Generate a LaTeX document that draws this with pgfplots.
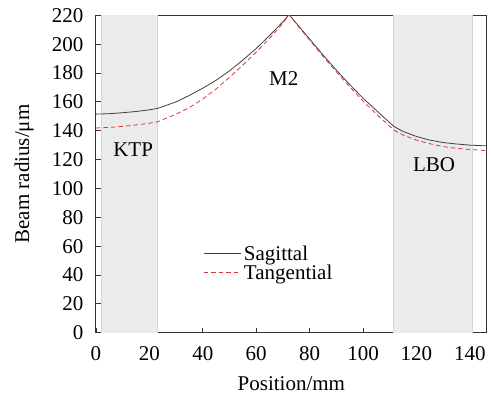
\documentclass[border=0pt]{standalone}
\usepackage{fontspec}
\setmainfont{Liberation Serif}
\usepackage{pgfplots}
\pgfplotsset{compat=1.18}
\definecolor{shade}{HTML}{EBEBEB}
\definecolor{shadeedge}{HTML}{D6D6D6}
\definecolor{tanred}{HTML}{E0353A}
\definecolor{axgray}{HTML}{333333}
\begin{document}
\begin{tikzpicture}[font=\fontsize{21bp}{25bp}\selectfont]
\useasboundingbox (-96bp,-65.3bp) rectangle (395bp,332.7bp);
\begin{axis}[
  at={(0,0)}, anchor=south west,
  scale only axis, width=390.7bp, height=317.4bp,
  xmin=0, xmax=146.3, ymin=0, ymax=220,
  xtick={0,20,40,60,80,100,120,140}, ytick={0,20,40,60,80,100,120,140,160,180,200,220},
  xticklabels={0,20,40,60,80,100,120,140},
  yticklabels={0,20,40,60,80,100,120,140,160,180,200,220},
  xtick pos=left, ytick pos=left, tick align=inside,
  major tick length=5bp,
  axis line style={axgray, line width=1bp},
  every tick/.style={axgray, line width=0.8bp},
  xticklabel style={yshift=-10bp},
  yticklabel style={xshift=-9bp},
  xlabel={Position/mm}, ylabel={Beam radius/μm},
  xlabel style={at={(axis description cs:0.5,-0.161)}, anchor=center},
  ylabel style={at={(axis description cs:-0.184,0.5)}, anchor=center},
  legend style={at={(axis cs:40.06,48.2)}, anchor=west, draw=none, fill=none,
    inner sep=0pt, row sep=3bp, font=\fontsize{21bp}{25bp}\selectfont,
    nodes={inner xsep=3bp, inner ysep=0bp}},
  legend cell align=left,
  legend image code/.code={\draw[#1] (0bp,0bp) -- (37bp,0bp);},
  clip=true,
]
\addplot[fill=shade, draw=shadeedge, line width=0.8bp, forget plot] coordinates {(2.1,-1) (2.1,221) (23.1,221) (23.1,-1)} -- cycle;
\addplot[fill=shade, draw=shadeedge, line width=0.8bp, forget plot] coordinates {(111.3,-1) (111.3,221) (140.8,221) (140.8,-1)} -- cycle;
\addplot[color=black!75, line width=0.8bp] coordinates {
(0,151.5) (5,151.8) (10,152.5) (15,153.3) (20,154.5) (23.1,155.5)
(30,160) (35,164.5) (40,169.5) (45,175) (50,181.5) (55,189) (60,197) (65,206) (70,215.5) (72.3,220.5)
(75,214.5) (80,203.5) (85,192.5) (90,182) (95,172) (100,162.5) (105,154) (111.5,143)
(115,139.5) (120,136) (125,133.5) (130,131.8) (135,130.8) (140,130) (146.3,129.5)};
\addlegendentry{Sagittal}
\addplot[color=tanred, line width=0.8bp, dash pattern=on 4.5bp off 3bp] coordinates {
(0,141.9) (5,142.3) (10,143) (15,144) (20,145.2) (23.1,146.2)
(30,151.5) (35,156) (40,162) (45,169) (50,177) (55,185.5) (60,194.5) (65,204) (70,214.5) (72.3,220.5)
(75,214) (80,202.8) (85,191.5) (90,180.8) (95,170.5) (100,160.5) (105,151.5) (111.5,140.5)
(115,137) (120,133.5) (125,131) (130,129) (135,127.8) (140,127) (146.3,126.2)};
\addlegendentry{Tangential}
\node at (axis cs:13.9,127.2) {KTP};
\node at (axis cs:70.3,176.3) {M2};
\node at (axis cs:126.6,116.5) {LBO};
\end{axis}
\end{tikzpicture}
\end{document}
